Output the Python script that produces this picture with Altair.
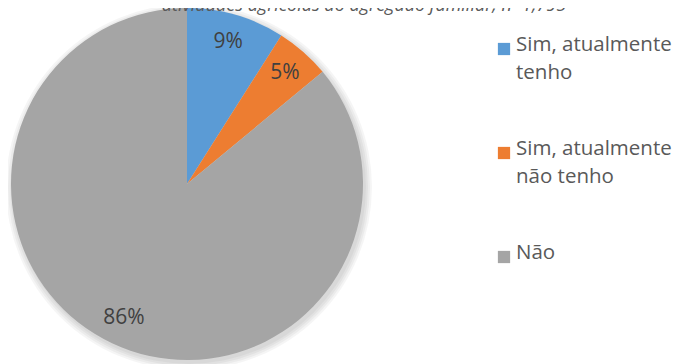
import altair as alt
import pandas as pd

categories = ["Sim, atualmente tenho", "Sim, atualmente não tenho", "Não"]
values = [9, 5, 86]
labels = ["9%", "5%", "86%"]
colors = ["#5B9BD5", "#ED7D31", "#A5A5A5"]
legend_lines = [["Sim, atualmente", "tenho"], ["Sim, atualmente", "não tenho"], ["Não"]]
title_text = "atividades agrícolas do agregado familiar, n=1,795"

df = pd.DataFrame({"cat": categories, "value": values, "label": labels, "idx": [0, 1, 2]})
leg = pd.DataFrame({"cat": categories, "lines": legend_lines})

CX, CY, R = 179, 176, 176

color_scale = alt.Scale(domain=categories, range=colors)
base = alt.Chart(df)

shadow_layers = []
for r in [177, 179, 181, 183]:
    shadow_layers.append(
        alt.Chart(pd.DataFrame({"s": [0]})).mark_arc(
            color="black", opacity=0.04, theta=0, theta2=6.2832, radius=r
        ).encode(x=alt.value(CX + 2), y=alt.value(CY + 3))
    )

pie = base.mark_arc(radius=R).encode(
    theta=alt.Theta("value:Q", stack=True),
    order=alt.Order("idx:Q"),
    color=alt.Color("cat:N", scale=color_scale, legend=None),
    x=alt.value(CX),
    y=alt.value(CY),
)

text = base.mark_text(
    radius=148, font="Open Sans", fontSize=21, color="#404040", baseline="middle"
).encode(
    theta=alt.Theta("value:Q", stack=True),
    order=alt.Order("idx:Q"),
    text="label:N",
    x=alt.value(CX),
    y=alt.value(CY),
)

leg_y = alt.Y("cat:N", scale=alt.Scale(type="point", domain=categories, range=[41, 249], padding=0), axis=None)

leg_sq = alt.Chart(leg).mark_square(size=150, opacity=1).encode(
    x=alt.value(496),
    y=leg_y,
    color=alt.Color("cat:N", scale=color_scale, legend=None),
)

leg_txt = alt.Chart(leg).mark_text(
    font="Open Sans", fontSize=20.5, color="#595959", align="left",
    baseline="top", lineHeight=28, dy=-14
).encode(
    x=alt.value(508),
    y=leg_y,
    text="lines",
)

title = alt.Chart(pd.DataFrame({"t": [title_text]})).mark_text(
    font="Open Sans", fontSize=18, fontStyle="italic", color="#595959",
    align="center", baseline="alphabetic"
).encode(text="t:N", x=alt.value(356), y=alt.value(3))

chart = alt.layer(*shadow_layers, pie, text, leg_sq, leg_txt, title).properties(
    width=664, height=356, padding=0, autosize=alt.AutoSizeParams(type="none")
).configure_view(stroke=None)

chart.save("out.html", embed_options={"renderer": "svg", "actions": False})
